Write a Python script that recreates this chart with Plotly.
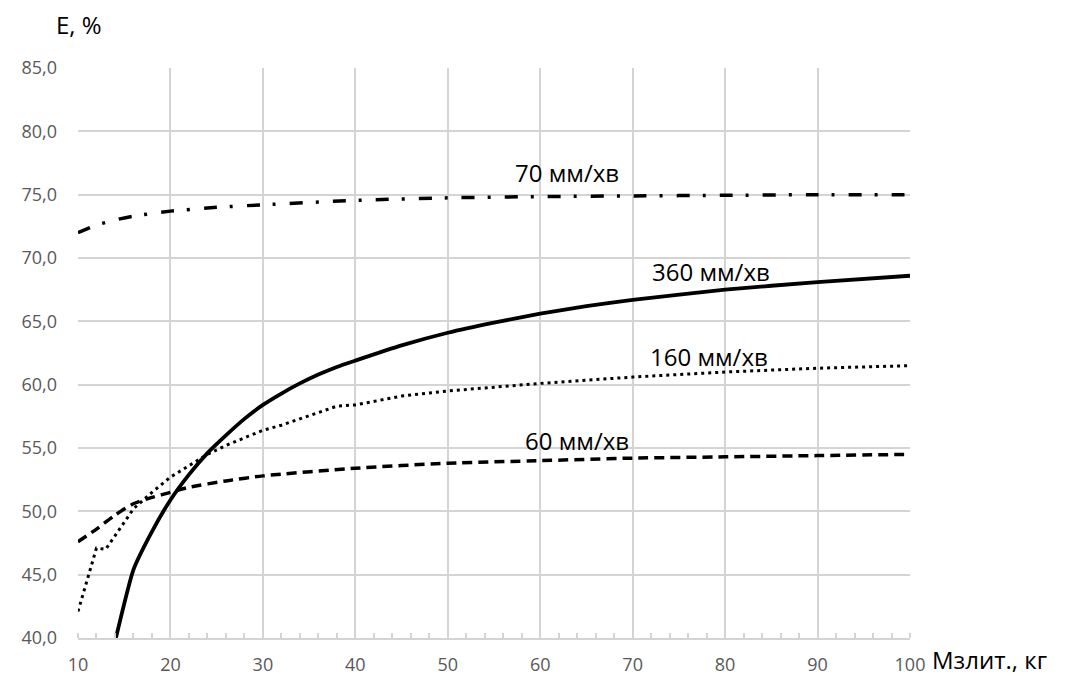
import plotly.graph_objects as go

# Mass of the melt, kg
x_360 = [14, 16, 18, 20, 22, 24, 26, 28, 30, 32, 34, 36, 38, 40, 45, 50, 55, 60, 65, 70, 80, 90, 100]
e_360 = [39.7, 45.4, 48.4, 50.9, 52.9, 54.6, 56.0, 57.3, 58.4, 59.3, 60.1, 60.8, 61.4, 61.9,
         63.1, 64.1, 64.9, 65.6, 66.2, 66.7, 67.5, 68.1, 68.6]

x_160 = [10, 12, 13, 14, 16, 18, 20, 22, 24, 26, 28, 30, 32, 34, 36, 38, 40, 45, 50, 60, 70, 80, 90, 100]
e_160 = [42.1, 47.1, 47.0, 48.1, 50.2, 51.5, 52.7, 53.6, 54.5, 55.2, 55.8, 56.4, 56.8, 57.3,
         57.8, 58.3, 58.4, 59.1, 59.5, 60.1, 60.6, 61.0, 61.3, 61.5]

x_60 = [10, 12, 14, 16, 18, 20, 22, 26, 30, 40, 50, 60, 70, 80, 90, 100]
e_60 = [47.6, 48.6, 49.7, 50.6, 51.1, 51.5, 51.9, 52.4, 52.8, 53.4, 53.8, 54.0, 54.2, 54.3, 54.4, 54.5]

x_70 = [10, 12, 14, 16, 20, 25, 30, 40, 50, 60, 70, 80, 90, 100]
e_70 = [72.0, 72.6, 73.0, 73.3, 73.7, 74.0, 74.2, 74.55, 74.75, 74.85, 74.9, 74.95, 75.0, 75.0]

series_names = ["70 мм/хв", "360 мм/хв", "160 мм/хв", "60 мм/хв"]

x_ticks = [10, 20, 30, 40, 50, 60, 70, 80, 90, 100]
y_ticks = [40, 45, 50, 55, 60, 65, 70, 75, 80, 85]
y_tick_text = ["40,0", "45,0", "50,0", "55,0", "60,0", "65,0", "70,0", "75,0", "80,0", "85,0"]

FONT = "Open Sans"
GRID = "#d4d4d4"

W, H = 1068, 680
L, R, T, B = 78, 158, 68, 42
pw, ph = W - L - R, H - T - B


def px_to_paper(px, py):
    return (px - L) / pw, 1 - (py - T) / ph


fig = go.Figure()
fig.add_trace(go.Scatter(x=x_70, y=e_70, mode="lines", name=series_names[0],
                         line=dict(color="black", width=3.5, dash="13px,13px,3px,14px",
                                   shape="spline", smoothing=0.6)))
fig.add_trace(go.Scatter(x=x_360, y=e_360, mode="lines", name=series_names[1],
                         line=dict(color="black", width=3.8, shape="spline", smoothing=0.5)))
fig.add_trace(go.Scatter(x=x_160, y=e_160, mode="lines", name=series_names[2],
                         line=dict(color="black", width=3, dash="3px,4px")))
fig.add_trace(go.Scatter(x=x_60, y=e_60, mode="lines", name=series_names[3],
                         line=dict(color="black", width=3.5, dash="10px,6px",
                                   shape="spline", smoothing=0.6)))

# curve labels
label_pos = [(62.9, 76.75), (78.5, 68.95), (78.3, 62.25), (64.0, 55.6)]
for name, (lx, ly) in zip(series_names, label_pos):
    fig.add_annotation(x=lx, y=ly, xref="x", yref="y", text=name, showarrow=False,
                       font=dict(family=FONT, size=24, color="black"))

# axis titles
tx, ty = px_to_paper(79, 25)
fig.add_annotation(x=tx, y=ty, xref="paper", yref="paper", text="E, %", showarrow=False,
                   xanchor="center", yanchor="middle",
                   font=dict(family=FONT, size=24, color="black"))
tx, ty = px_to_paper(930, 660)
fig.add_annotation(x=tx, y=ty, xref="paper", yref="paper", text="Мзлит., кг", showarrow=False,
                   xanchor="left", yanchor="middle",
                   font=dict(family=FONT, size=24, color="black"))

fig.update_layout(
    width=W, height=H,
    margin=dict(l=L, r=R, t=T, b=B, autoexpand=False),
    paper_bgcolor="white", plot_bgcolor="white",
    showlegend=False,
    font=dict(family=FONT, color="#595959"),
    xaxis=dict(range=[10, 100], tickmode="array", tickvals=x_ticks,
               ticktext=[str(v) for v in x_ticks], automargin=False,
               showgrid=True, gridcolor=GRID, gridwidth=1.5,
               showline=True, linecolor=GRID, linewidth=1.5,
               zeroline=False, ticks="", ticklabelstandoff=10,
               tickfont=dict(family=FONT, size=18, color="#595959"),
               minor=dict(tick0=10, dtick=2, ticks="inside", ticklen=5,
                          tickcolor=GRID, tickwidth=1.5, showgrid=False)),
    yaxis=dict(range=[40, 85], tickmode="array", tickvals=y_ticks, ticktext=y_tick_text,
               automargin=False,
               showgrid=True, gridcolor=GRID, gridwidth=1.5,
               showline=False, zeroline=False, ticks="", ticklabelstandoff=20,
               tickfont=dict(family=FONT, size=18, color="#595959")),
)

fig.write_html("out.html")
